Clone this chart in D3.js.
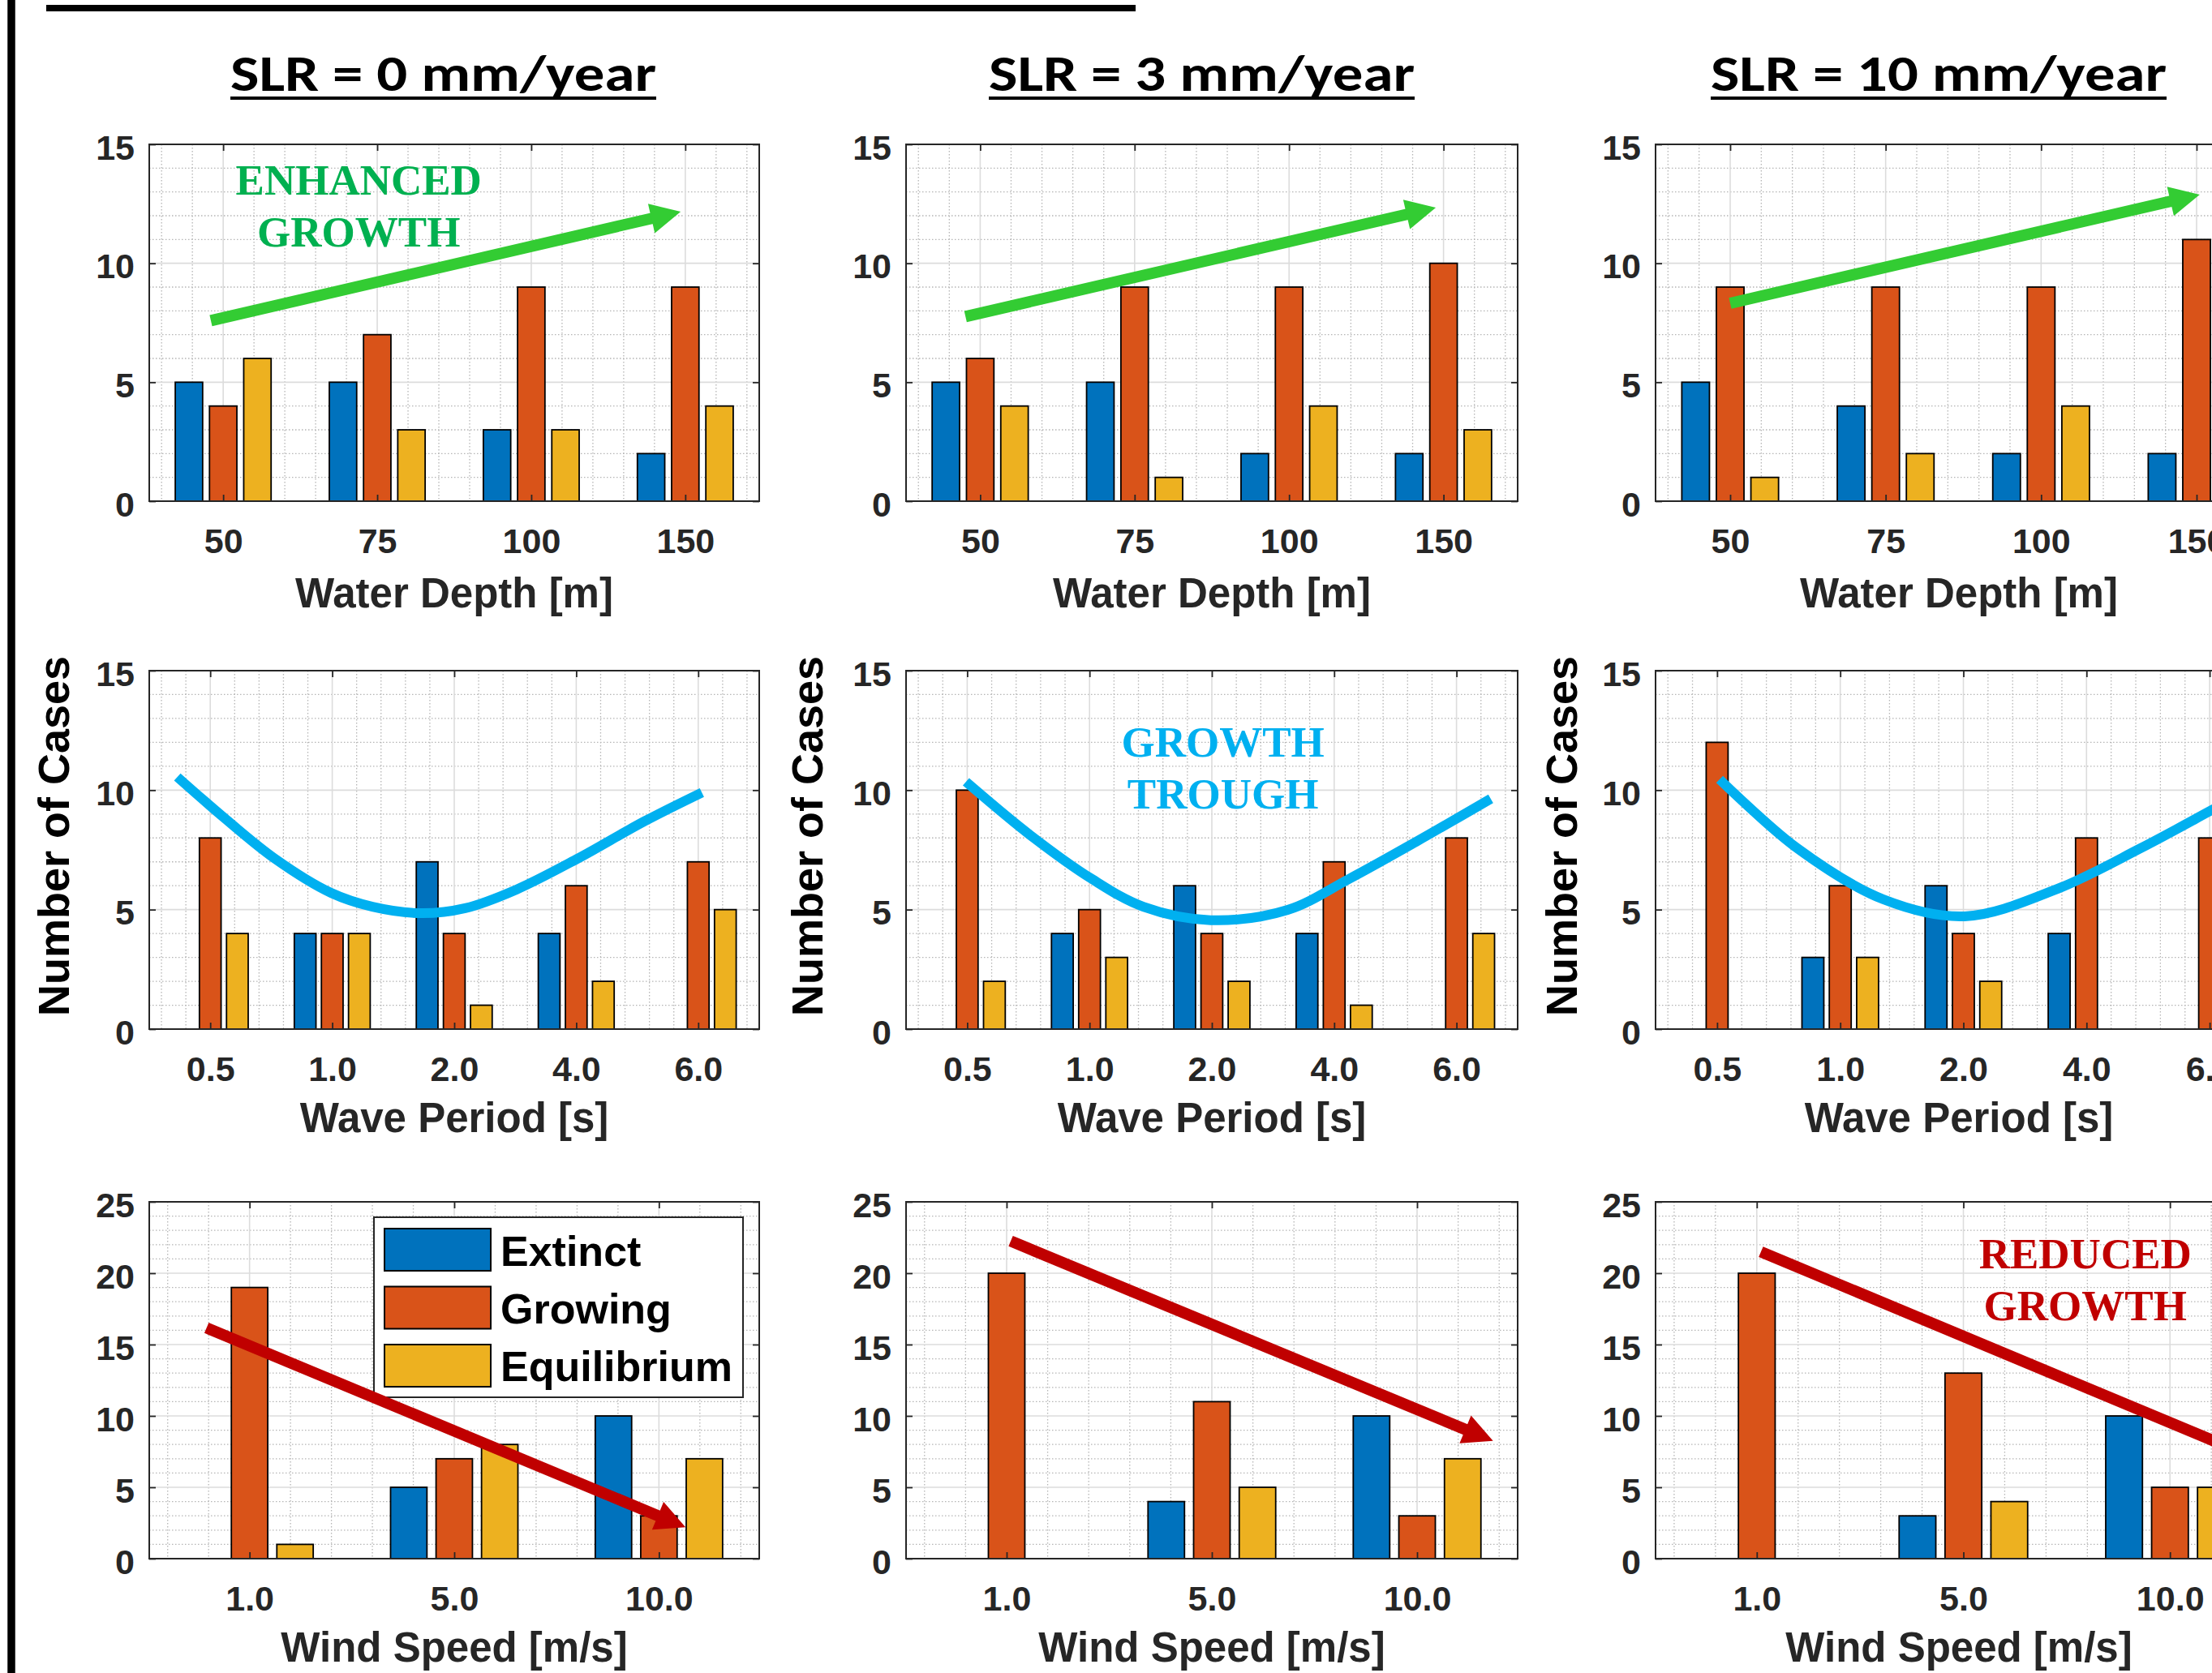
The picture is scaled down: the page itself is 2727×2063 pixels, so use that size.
<!DOCTYPE html>
<html>
<head>
<meta charset="utf-8">
<script src="https://cdn.jsdelivr.net/npm/d3@7"></script>
<style>
  html, body { margin: 0; padding: 0; background: #fff; overflow: hidden; }
  svg { display: block; }
</style>
</head>
<body>
<script>
// ---- values ----
const depthLabels = ['50', '75', '100', '150']
const periodLabels = ['0.5', '1.0', '2.0', '4.0', '6.0']
const windLabels = ['1.0', '5.0', '10.0']
const seriesNames = ['Extinct', 'Growing', 'Equilibrium']
const slrTitles = ['SLR = 0 mm/year', 'SLR = 3 mm/year', 'SLR = 10 mm/year']

// each: [extinct, growing, equilibrium], one value per category
const depthSlr0 = [[5, 5, 3, 2], [4, 7, 9, 9], [6, 3, 3, 4]]
const depthSlr3 = [[5, 5, 2, 2], [6, 9, 9, 10], [4, 1, 4, 3]]
const depthSlr10 = [[5, 4, 2, 2], [9, 9, 9, 11], [1, 2, 4, 2]]

const periodSlr0 = [[0, 4, 7, 4, 0], [8, 4, 4, 6, 7], [4, 4, 1, 2, 5]]
const periodSlr3 = [[0, 4, 6, 4, 0], [10, 5, 4, 7, 8], [2, 3, 2, 1, 4]]
const periodSlr10 = [[0, 3, 6, 4, 0], [12, 6, 4, 8, 8], [0, 3, 2, 0, 4]]

const windSlr0 = [[0, 5, 10], [19, 7, 3], [1, 8, 7]]
const windSlr3 = [[0, 4, 10], [20, 11, 3], [0, 5, 7]]
const windSlr10 = [[0, 3, 10], [20, 13, 5], [0, 4, 5]]

// hand-drawn trough curves (category index, cases)
const troughSlr0X = [0.73, 1.11, 1.53, 1.99, 2.33, 2.73, 3.09, 3.51, 4.01, 4.56, 5.03]
const troughSlr0Y = [10.55, 8.86, 7.13, 5.7, 5.12, 4.85, 5.06, 5.84, 7.13, 8.7, 9.9]
const troughSlr3X = [0.99, 1.51, 2.02, 2.44, 2.99, 3.62, 4.12, 4.67, 5.28]
const troughSlr3Y = [10.35, 8.14, 6.28, 5.12, 4.56, 4.99, 6.28, 7.84, 9.64]
const troughSlr10X = [1.02, 1.65, 2.35, 3.01, 3.75, 4.44, 5.03, 5.3]
const troughSlr10Y = [10.45, 7.57, 5.43, 4.72, 5.84, 7.57, 9.2, 9.95]

// trend arrows [x0, y0, x1, y1] in category index / cases
const growthArrows = [[0.92, 7.59, 3.97, 12.17], [0.905, 7.76, 3.95, 12.34], [1.0, 8.32, 4.02, 12.89]]
const windArrows = [[0.79, 16.17, 3.13, 2.2], [1.02, 22.25, 3.37, 8.25], [1.02, 21.5, 3.37, 7.3]]

// ---- layout ----
const W = 2727, H = 2063
const colors = ['#0072BD', '#D95319', '#EDB120']
const ink = '#262626'

const cols = [
  { left: 184, right: 936, title: [284, 809], ylab: 85 },
  { left: 1117, right: 1871, title: [1219, 1744], ylab: 1014 },
  { left: 2041, right: 2800, title: [2109, 2671], ylab: 1944 },
]
const rows = [
  { top: 178, bottom: 618, xlim: [0.52, 4.48], ymax: 15, cats: depthLabels, xlabel: 'Water Depth [m]', labelGap: 131,
    data: [depthSlr0, depthSlr3, depthSlr10] },
  { top: 827, bottom: 1269, xlim: [0.5, 5.5], ymax: 15, cats: periodLabels, xlabel: 'Wave Period [s]', labelGap: 127,
    data: [periodSlr0, periodSlr3, periodSlr10] },
  { top: 1482, bottom: 1922, xlim: [0.51, 3.49], ymax: 25, cats: windLabels, xlabel: 'Wind Speed [m/s]', labelGap: 127,
    data: [windSlr0, windSlr3, windSlr10] },
]

const svg = d3.select('body').append('svg')
  .attr('width', W).attr('height', H)
  .style('font-family', '"Liberation Sans", Arial, Helvetica, sans-serif')

// page rules
svg.append('line').attr('x1', 14).attr('x2', 14).attr('y1', 0).attr('y2', H)
  .attr('stroke', '#000').attr('stroke-width', 9.5)
svg.append('line').attr('x1', 57).attr('x2', 1400).attr('y1', 10).attr('y2', 10)
  .attr('stroke', '#000').attr('stroke-width', 8)

// column titles
cols.forEach((c, ci) => {
  svg.append('text')
    .attr('x', c.title[0]).attr('y', 112)
    .attr('textLength', c.title[1] - c.title[0]).attr('lengthAdjust', 'spacingAndGlyphs')
    .style('font-family', 'Carlito, Lato, "Open Sans", sans-serif')
    .style('font-weight', 700).style('font-size', '63px').attr('fill', '#000')
    .text(slrTitles[ci])
  svg.append('line')
    .attr('x1', c.title[0]).attr('x2', c.title[1]).attr('y1', 121).attr('y2', 121)
    .attr('stroke', '#000').attr('stroke-width', 4)
})

const panels = {}

rows.forEach((r, ri) => {
  cols.forEach((c, ci) => {
    const n = r.cats.length
    const x = d3.scaleLinear().domain(r.xlim).range([c.left, c.right])
    const y = d3.scaleLinear().domain([0, r.ymax]).range([r.bottom, r.top])
    panels[ri + '-' + ci] = { x, y }
    const g = svg.append('g')

    // white plot background
    g.append('rect').attr('x', c.left).attr('y', r.top)
      .attr('width', c.right - c.left).attr('height', r.bottom - r.top).attr('fill', '#fff')

    // minor grid
    const xMinor = d3.range(Math.ceil(r.xlim[0] * 5), Math.floor(r.xlim[1] * 5) + 1)
      .filter(k => k % 5 !== 0).map(k => k / 5)
    const yMinor = d3.range(1, r.ymax).filter(v => v % 5 !== 0)
    g.selectAll('.xminor').data(xMinor).enter().append('line')
      .attr('x1', d => x(d)).attr('x2', d => x(d)).attr('y1', r.top).attr('y2', r.bottom)
      .attr('stroke', '#b5b5b5').attr('stroke-width', 1.3).attr('stroke-dasharray', '1.5,2.5')
    g.selectAll('.yminor').data(yMinor).enter().append('line')
      .attr('x1', c.left).attr('x2', c.right).attr('y1', d => y(d)).attr('y2', d => y(d))
      .attr('stroke', '#b5b5b5').attr('stroke-width', 1.3).attr('stroke-dasharray', '1.5,2.5')

    // major grid
    g.selectAll('.xmajor').data(d3.range(1, n + 1)).enter().append('line')
      .attr('x1', d => x(d)).attr('x2', d => x(d)).attr('y1', r.top).attr('y2', r.bottom)
      .attr('stroke', '#dcdcdc').attr('stroke-width', 1.6)
    g.selectAll('.ymajor').data(d3.range(5, r.ymax, 5)).enter().append('line')
      .attr('x1', c.left).attr('x2', c.right).attr('y1', d => y(d)).attr('y2', d => y(d))
      .attr('stroke', '#dcdcdc').attr('stroke-width', 1.6)

    // grouped bars
    const data = r.data[ci]
    const bars = []
    data.forEach((vals, s) => vals.forEach((v, i) => {
      if (v > 0) bars.push({ s, i, v })
    }))
    const step = 0.2222, bw = 0.1778
    g.selectAll('.bar').data(bars).enter().append('rect')
      .attr('x', d => x(d.i + 1 + (d.s - 1) * step - bw / 2))
      .attr('width', x(bw) - x(0))
      .attr('y', d => y(d.v))
      .attr('height', d => y(0) - y(d.v))
      .attr('fill', d => colors[d.s])
      .attr('stroke', '#000').attr('stroke-width', 1.8)

    // axes (ticks inward, MATLAB box style)
    const styleAxis = sel => {
      sel.select('.domain').remove()
      sel.selectAll('.tick line').attr('stroke', ink).attr('stroke-width', 1.8)
      sel.selectAll('.tick text').attr('fill', ink)
        .style('font-size', '43px').style('font-weight', 700)
        .style('font-family', '"Liberation Sans", Arial, Helvetica, sans-serif')
    }
    g.append('g').attr('transform', `translate(0,${r.bottom})`)
      .call(d3.axisBottom(x).tickValues(d3.range(1, n + 1)).tickFormat(i => r.cats[i - 1])
        .tickSize(-8).tickPadding(33))
      .call(styleAxis)
    g.append('g').attr('transform', `translate(0,${r.top})`)
      .call(d3.axisTop(x).tickValues(d3.range(1, n + 1)).tickFormat('').tickSize(-8))
      .call(styleAxis)
    g.append('g').attr('transform', `translate(${c.left},0)`)
      .call(d3.axisLeft(y).tickValues(d3.range(0, r.ymax + 1, 5)).tickSize(-8).tickPadding(18))
      .call(styleAxis)
      .call(sel => sel.selectAll('.tick text').attr('dy', '0.42em'))
    g.append('g').attr('transform', `translate(${c.right},0)`)
      .call(d3.axisRight(y).tickValues(d3.range(0, r.ymax + 1, 5)).tickFormat('').tickSize(-8))
      .call(styleAxis)

    // box
    g.append('rect').attr('x', c.left).attr('y', r.top)
      .attr('width', c.right - c.left).attr('height', r.bottom - r.top)
      .attr('fill', 'none').attr('stroke', ink).attr('stroke-width', 2)

    // x label
    g.append('text')
      .attr('x', (c.left + Math.min(c.right, 2795)) / 2 - (ci === 2 ? 3 : 0))
      .attr('y', r.bottom + r.labelGap)
      .attr('text-anchor', 'middle').attr('fill', ink)
      .style('font-size', '51px').style('font-weight', 700)
      .text(r.xlabel)

    // y label on middle row
    if (ri === 1) {
      g.append('text')
        .attr('transform', `translate(${c.ylab},1031) rotate(-90)`)
        .attr('text-anchor', 'middle').attr('fill', '#000')
        .style('font-size', '54px').style('font-weight', 700)
        .text('Number of Cases')
    }
  })
})

// ---- annotations ----
function arrow(p, a, color) {
  const x0 = p.x(a[0]), y0 = p.y(a[1]), x1 = p.x(a[2]), y1 = p.y(a[3])
  const len = Math.hypot(x1 - x0, y1 - y0)
  const ux = (x1 - x0) / len, uy = (y1 - y0) / len
  const nx = -uy, ny = ux
  const L = 37, hw = 18.5
  svg.append('line')
    .attr('x1', x0).attr('y1', y0).attr('x2', x1 - ux * L * 0.8).attr('y2', y1 - uy * L * 0.8)
    .attr('stroke', color).attr('stroke-width', 14)
  const bx = x1 - ux * L, by = y1 - uy * L
  svg.append('path')
    .attr('d', `M${x1},${y1}L${bx + nx * hw},${by + ny * hw}L${bx - nx * hw},${by - ny * hw}Z`)
    .attr('fill', color)
}

function note(p, cx, cy, lines, color) {
  const t = svg.append('text')
    .attr('text-anchor', 'middle').attr('fill', color)
    .style('font-family', '"Liberation Serif", "Times New Roman", serif')
    .style('font-weight', 700).style('font-size', '53px')
  lines.forEach((s, k) => {
    t.append('tspan').attr('x', p.x(cx)).attr('y', p.y(cy) + k * 64).text(s)
  })
}

const troughsX = [troughSlr0X, troughSlr3X, troughSlr10X]
const troughsY = [troughSlr0Y, troughSlr3Y, troughSlr10Y]

for (let ci = 0; ci < 3; ci++) {
  // row 1 green arrows
  arrow(panels['0-' + ci], growthArrows[ci], '#33CC33')
  // row 2 trough curves
  const p = panels['1-' + ci]
  const pts = troughsX[ci].map((v, k) => [v, troughsY[ci][k]])
  svg.append('path')
    .attr('d', d3.line().x(d => p.x(d[0])).y(d => p.y(d[1])).curve(d3.curveCatmullRom.alpha(0.5))(pts))
    .attr('fill', 'none').attr('stroke', '#00B0F0').attr('stroke-width', 12)
}

note(panels['0-0'], 1.88, 12.89, ['ENHANCED', 'GROWTH'], '#00B050')
note(panels['1-1'], 3.09, 11.4, ['GROWTH', 'TROUGH'], '#00B0F0')
note(panels['2-2'], 2.59, 20.32, ['REDUCED', 'GROWTH'], '#C00000')

// legend in the first wind panel
const lc = cols[0], lr = rows[2]
const lx = lc.right - 20 - 455, ly = lr.top + 19
const leg = svg.append('g')
leg.append('rect').attr('x', lx).attr('y', ly).attr('width', 455).attr('height', 222)
  .attr('fill', '#fff').attr('stroke', ink).attr('stroke-width', 2)
seriesNames.forEach((name, k) => {
  leg.append('rect').attr('x', lx + 13).attr('y', ly + 14 + k * 71.5)
    .attr('width', 131).attr('height', 52)
    .attr('fill', colors[k]).attr('stroke', '#000').attr('stroke-width', 2)
  leg.append('text').attr('x', lx + 156).attr('y', ly + 60 + k * 71)
    .attr('fill', '#000').style('font-size', '52px').style('font-weight', 700)
    .text(name)
})

// wind arrows drawn last, over legend
for (let ci = 0; ci < 3; ci++) {
  arrow(panels['2-' + ci], windArrows[ci], '#C00000')
}
</script>
</body>
</html>
